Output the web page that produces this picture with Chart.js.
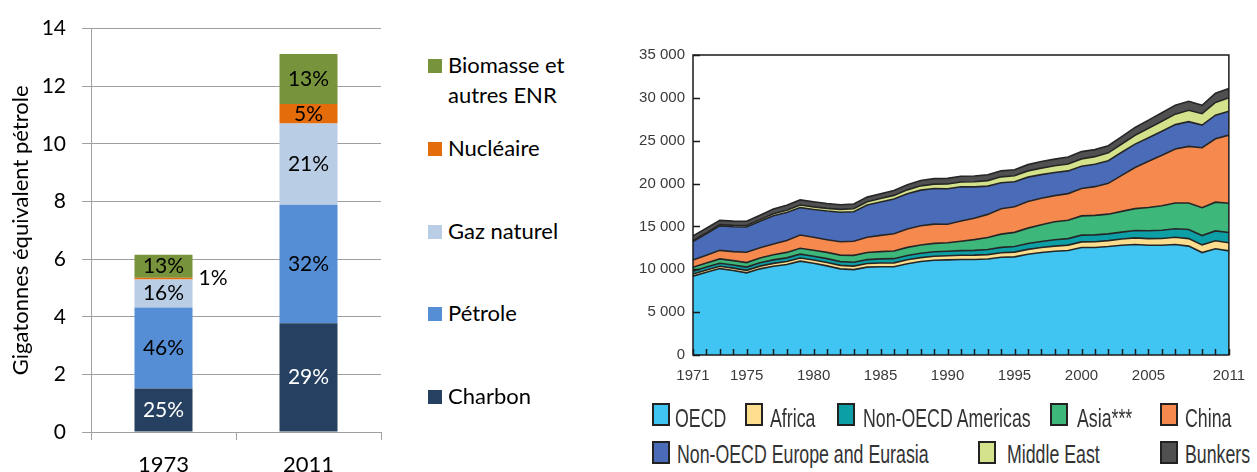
<!DOCTYPE html>
<html>
<head>
<meta charset="utf-8">
<script src="https://cdn.jsdelivr.net/npm/chart.js@4.4.1/dist/chart.umd.min.js"></script>
<style>
  html, body { margin: 0; padding: 0; background: #fff; }
  body { width: 1257px; height: 472px; position: relative; overflow: hidden; }
  #barChart { position: absolute; left: 0; top: 0; }
  #areaChart { position: absolute; left: 620px; top: 0; }
  .lg-box { position: absolute; width: 14px; height: 14px; }
  .lg-text { position: absolute; font-family: Lato, sans-serif; font-size: 22px; line-height: 30px; color: #000; width: 150px; }
  .rl-box { position: absolute; width: 18px; height: 23px; box-sizing: border-box; border: 2px solid #222; }
  .rl-text { position: absolute; font-family: "Liberation Sans", Arial, sans-serif; font-size: 25px; line-height: 24px;
             color: #333; white-space: nowrap; transform: scaleX(0.71); transform-origin: left top; }
</style>
</head>
<body>
<canvas id="barChart" width="400" height="472"></canvas>
<canvas id="areaChart" width="637" height="400"></canvas>
<div id="legendLeft"></div>
<div id="legendRight"></div>
<script>
// ---- left chart: energie primaire 1973 / 2011 ----
const barYears = ['1973', '2011'];
const charbon = [1.51, 3.77];
const petrole = [2.81, 4.12];
const gazNaturel = [0.97, 2.82];
const nucleaire = [0.06, 0.67];
const biomasse = [0.80, 1.74];
const pctCharbon = ['25%', '29%'];
const pctPetrole = ['46%', '32%'];
const pctGaz = ['16%', '21%'];
const pctNucleaire = ['1%', '5%'];
const pctBiomasse = ['13%', '13%'];
const barYMax = 14;
const barYStep = 2;

// ---- right chart: CO2 by region, 1971-2011 (Mt) ----
const years = ['1971','1972','1973','1974','1975','1976','1977','1978','1979','1980',
  '1981','1982','1983','1984','1985','1986','1987','1988','1989','1990',
  '1991','1992','1993','1994','1995','1996','1997','1998','1999','2000',
  '2001','2002','2003','2004','2005','2006','2007','2008','2009','2010','2011'];
const labelYears = ['1971','1975','1980','1985','1990','1995','2000','2005','2011'];
const oecd = [9200, 9650, 10080, 9850, 9580, 10050, 10350, 10550, 10950, 10700,
  10400, 10050, 9960, 10250, 10300, 10300, 10650, 10900, 11050, 11100,
  11150, 11150, 11200, 11400, 11450, 11750, 11950, 12100, 12200, 12550,
  12550, 12650, 12800, 12900, 12800, 12800, 12900, 12700, 11950, 12400, 12150];
const africa = [250, 260, 270, 285, 300, 320, 340, 355, 370, 380,
  395, 405, 415, 425, 440, 450, 460, 465, 475, 480,
  490, 500, 515, 535, 555, 570, 585, 605, 620, 650,
  670, 690, 730, 760, 780, 800, 830, 880, 900, 930, 950];
const nonOecdAmericas = [330, 345, 360, 370, 380, 395, 410, 425, 445, 450,
  445, 440, 445, 455, 470, 490, 505, 510, 515, 520,
  540, 560, 590, 620, 650, 680, 710, 740, 760, 780,
  790, 790, 810, 860, 920, 960, 1000, 1060, 1080, 1150, 1200];
const asia = [450, 470, 500, 510, 520, 560, 600, 640, 680, 700,
  730, 760, 800, 830, 850, 900, 940, 960, 980, 1000,
  1100, 1250, 1400, 1550, 1650, 1800, 1950, 2100, 2150, 2250,
  2280, 2300, 2420, 2560, 2700, 2850, 3000, 3100, 3250, 3350, 3400];
const china = [850, 900, 1000, 1050, 1200, 1180, 1250, 1400, 1550, 1500,
  1480, 1550, 1650, 1780, 1900, 2000, 2150, 2250, 2250, 2150,
  2350, 2500, 2700, 2950, 3000, 3100, 3100, 3050, 3100, 3200,
  3350, 3600, 4200, 4800, 5400, 5900, 6300, 6600, 7000, 7400, 7950];
const nonOecdEurope = [2150, 2500, 2850, 2900, 2950, 3100, 3300, 3250, 3200, 3250,
  3350, 3450, 3450, 3750, 3900, 4050, 4100, 4150, 4150, 4150,
  4000, 3650, 3300, 3050, 2900, 2850, 2750, 2700, 2650, 2600,
  2620, 2640, 2700, 2720, 2750, 2800, 2850, 2880, 2650, 2750, 2800];
const middleEast = [120, 130, 150, 160, 170, 190, 220, 260, 300, 300,
  310, 330, 350, 380, 400, 430, 460, 500, 520, 550,
  560, 600, 640, 680, 700, 730, 760, 780, 810, 850,
  880, 920, 960, 1030, 1100, 1160, 1220, 1330, 1320, 1480, 1550];
const bunkers = [550, 530, 500, 490, 500, 520, 560, 580, 600, 600,
  570, 550, 540, 550, 560, 580, 600, 620, 640, 660,
  670, 680, 690, 700, 710, 730, 760, 780, 810, 850,
  820, 830, 860, 920, 950, 1000, 1050, 1050, 980, 1080, 1100];
const areaYMax = 35000;
const areaYStep = 5000;

const narrowFont = "'Liberation Sans', Arial, sans-serif";

// percentages written on the bars
const pctLabels = {
  id: 'pctLabels',
  afterDatasetsDraw(chart) {
    const ctx = chart.ctx;
    ctx.save();
    ctx.font = '21px Lato';
    ctx.textBaseline = 'middle';
    chart.data.datasets.forEach((ds, i) => {
      chart.getDatasetMeta(i).data.forEach((bar, j) => {
        const mid = (bar.y + bar.base) / 2;
        if (bar.base - bar.y < 12) {
          ctx.textAlign = 'left';
          ctx.fillStyle = '#000';
          ctx.fillText(ds.pct[j], bar.x + bar.width / 2 + 6, mid);
        } else {
          ctx.textAlign = 'center';
          ctx.fillStyle = ds.textColor;
          ctx.fillText(ds.pct[j], bar.x, mid);
        }
      });
    });
    ctx.restore();
  }
};

const barSets = [
  { label: 'Charbon', data: charbon, pct: pctCharbon, backgroundColor: '#254061', textColor: '#fff' },
  { label: 'Pétrole', data: petrole, pct: pctPetrole, backgroundColor: '#558ED5', textColor: '#000' },
  { label: 'Gaz naturel', data: gazNaturel, pct: pctGaz, backgroundColor: '#B9CDE5', textColor: '#000' },
  { label: 'Nucléaire', data: nucleaire, pct: pctNucleaire, backgroundColor: '#E46C0A', textColor: '#000' },
  { label: 'Biomasse et autres ENR', data: biomasse, pct: pctBiomasse, backgroundColor: '#77933C', textColor: '#000' }
];

new Chart(document.getElementById('barChart'), {
  type: 'bar',
  data: {
    labels: barYears,
    datasets: barSets.map(s => Object.assign({ barPercentage: 0.4, categoryPercentage: 1, borderWidth: 0 }, s))
  },
  options: {
    responsive: false,
    animation: false,
    layout: { padding: { top: 24, right: 19, left: 0, bottom: 0 } },
    plugins: { legend: { display: false }, tooltip: { enabled: false } },
    scales: {
      x: {
        stacked: true,
        ticks: { color: '#000', font: { family: 'Lato', size: 22 }, padding: 12 },
        grid: { drawOnChartArea: false, tickLength: 8, color: '#a0a0a0' },
        border: { color: '#a0a0a0' },
        afterFit(s) { s.height = 40; }
      },
      y: {
        stacked: true,
        min: 0,
        max: barYMax,
        ticks: { stepSize: barYStep, color: '#000', font: { family: 'Lato', size: 21 }, padding: 16 },
        grid: { color: '#a0a0a0', tickLength: 9 },
        border: { color: '#a0a0a0' },
        title: {
          display: true, text: 'Gigatonnes équivalent pétrole', color: '#000',
          font: { family: 'Lato', size: 22 }, padding: { top: 8, bottom: 0 }
        },
        afterFit(s) { s.width = 91; }
      }
    }
  },
  plugins: [pctLabels]
});

// legend for the bars, top item first
const leftTops = [50, 133, 216, 298, 381];
const legendLeft = document.getElementById('legendLeft');
barSets.slice().reverse().forEach((s, i) => {
  const box = document.createElement('div');
  box.className = 'lg-box';
  box.style.left = '428px';
  box.style.top = (leftTops[i] + 9) + 'px';
  box.style.background = s.backgroundColor;
  const txt = document.createElement('div');
  txt.className = 'lg-text';
  txt.style.left = '448px';
  txt.style.top = leftTops[i] + 'px';
  txt.style.width = i === 0 ? '130px' : '170px';
  txt.textContent = s.label;
  legendLeft.appendChild(box);
  legendLeft.appendChild(txt);
});

// ---- right chart ----
const frame = {
  id: 'frame',
  afterDatasetsDraw(chart) {
    const { ctx, chartArea: a, scales: { x, y } } = chart;
    ctx.save();
    ctx.strokeStyle = '#1a1a1a';
    ctx.lineWidth = 1.5;
    ctx.strokeRect(a.left, a.top, a.width, a.height);
    ctx.beginPath();
    x.ticks.forEach((t, i) => {
      const px = Math.round(x.getPixelForTick(i)) + 0.5;
      ctx.moveTo(px, a.bottom);
      ctx.lineTo(px, a.bottom - 6);
    });
    y.ticks.forEach((t, i) => {
      const py = Math.round(y.getPixelForTick(i)) + 0.5;
      ctx.moveTo(a.left, py);
      ctx.lineTo(a.left + 7, py);
    });
    ctx.stroke();
    ctx.restore();
  }
};

const areaSets = [
  { label: 'OECD', data: oecd, backgroundColor: '#40C4F1' },
  { label: 'Africa', data: africa, backgroundColor: '#FDDE8E' },
  { label: 'Non-OECD Americas', data: nonOecdAmericas, backgroundColor: '#0C9FA6' },
  { label: 'Asia***', data: asia, backgroundColor: '#3DB77A' },
  { label: 'China', data: china, backgroundColor: '#F68A4E' },
  { label: 'Non-OECD Europe and Eurasia', data: nonOecdEurope, backgroundColor: '#4A6CB8' },
  { label: 'Middle East', data: middleEast, backgroundColor: '#D4E38B' },
  { label: 'Bunkers', data: bunkers, backgroundColor: '#505050' }
];

new Chart(document.getElementById('areaChart'), {
  type: 'line',
  data: {
    labels: years,
    datasets: areaSets.map((s, i) => Object.assign({
      fill: i === 0 ? 'origin' : '-1',
      borderColor: '#262626',
      borderWidth: 1.6,
      pointRadius: 0,
      tension: 0
    }, s))
  },
  options: {
    responsive: false,
    animation: false,
    layout: { autoPadding: false, padding: { top: 55, right: 14, left: 0, bottom: 10 } },
    plugins: { legend: { display: false }, tooltip: { enabled: false } },
    scales: {
      x: {
        offset: false,
        grid: { display: false, drawTicks: false },
        border: { display: false },
        ticks: {
          autoSkip: false, maxRotation: 0, padding: 12, color: '#3a3a3a',
          font: { family: narrowFont, size: 15 },
          callback(v) { const l = this.getLabelForValue(v); return labelYears.includes(l) ? l : ''; }
        },
        afterFit(s) { s.height = 35; }
      },
      y: {
        stacked: true,
        min: 0,
        max: areaYMax,
        grid: { display: false, drawTicks: false },
        border: { display: false },
        ticks: {
          stepSize: areaYStep, padding: 8, color: '#3a3a3a',
          font: { family: narrowFont, size: 15 },
          callback(v) { return String(v).replace(/\B(?=(\d{3})+(?!\d))/g, ' '); }
        },
        afterFit(s) { s.width = 73; }
      }
    }
  },
  plugins: [frame]
});

// legend under the area chart
const rightPos = [
  { box: 652, text: 675, row: 0 }, { box: 745, text: 770, row: 0 }, { box: 837, text: 863, row: 0 },
  { box: 1050, text: 1077, row: 0 }, { box: 1160, text: 1185, row: 0 },
  { box: 652, text: 677, row: 1 }, { box: 978, text: 1007, row: 1 }, { box: 1160, text: 1185, row: 1 }
];
const rowBoxTop = [403, 441];
const rowTextTop = [406, 442];
const legendRight = document.getElementById('legendRight');
areaSets.forEach((s, i) => {
  const p = rightPos[i];
  const box = document.createElement('div');
  box.className = 'rl-box';
  box.style.left = p.box + 'px';
  box.style.top = rowBoxTop[p.row] + 'px';
  box.style.background = s.backgroundColor;
  const txt = document.createElement('div');
  txt.className = 'rl-text';
  txt.style.left = p.text + 'px';
  txt.style.top = rowTextTop[p.row] + 'px';
  txt.textContent = s.label;
  legendRight.appendChild(box);
  legendRight.appendChild(txt);
});
</script>
</body>
</html>
